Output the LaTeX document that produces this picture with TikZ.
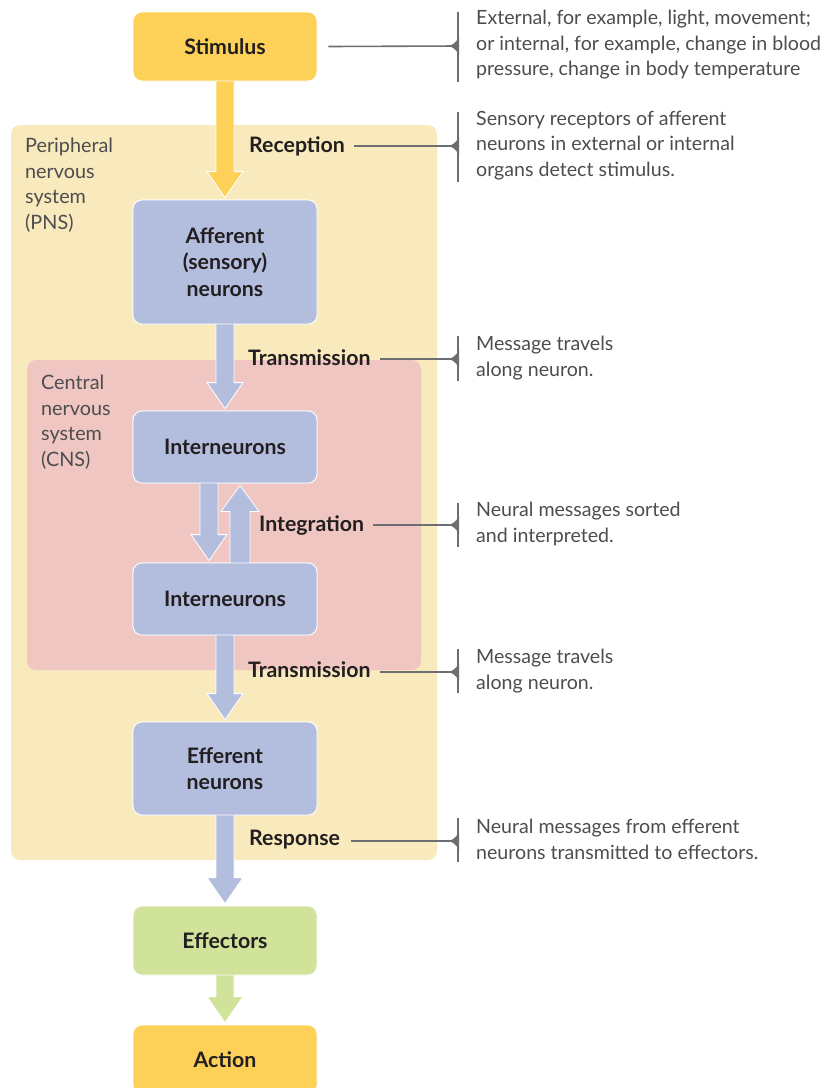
\documentclass[tikz,border=0pt]{standalone}
\usepackage{fontspec}
\setmainfont{Lato}
\usetikzlibrary{calc}
\definecolor{stimy}{HTML}{FDD158}
\definecolor{pnsbg}{HTML}{F9EABD}
\definecolor{cnsbg}{HTML}{F0C6C2}
\definecolor{neur}{HTML}{B3BEDF}
\definecolor{effg}{HTML}{D1E39B}
\definecolor{linegray}{HTML}{6D6E71}
\definecolor{desctext}{HTML}{4D4D4F}
\definecolor{labtext}{HTML}{231F20}
\tikzset{
  x=1pt, y=-1pt,
  box/.style={rounded corners=9pt, draw=white, line width=0.8pt, minimum width=184pt,
    font=\fontsize{21.3}{26.5}\selectfont\bfseries, text=labtext, align=center, inner sep=0pt},
  lbl/.style={font=\fontsize{21.3}{26}\selectfont\bfseries, text=labtext, anchor=west, inner sep=0pt},
  desc/.style={font=\fontsize{19.6}{25.5}\selectfont, text=desctext, anchor=west, align=left, inner sep=0pt},
  region/.style={font=\fontsize{19.8}{25.5}\selectfont, text=desctext, anchor=west, align=left, inner sep=0pt},
  callline/.style={draw=linegray, line width=1.6pt},
  barrow/.style={draw=white, line width=0.8pt, line join=miter},
}
\newcommand\blockarrow[4]{% from coord, to coord, colour, shaft half width
  \filldraw[barrow, fill=#3] ($(#1)+(-#4,-2)$) -- ($(#2)+(-#4,-28)$) -- ($(#2)+(-#4-9,-28)$) -- ($(#2)+(0,-2)$)
    -- ($(#2)+(#4+9,-28)$) -- ($(#2)+(#4,-28)$) -- ($(#1)+(#4,-2)$) -- cycle;}
\newcommand\uparrowblk[4]{% from coord (bottom), to coord (top), colour, half width
  \filldraw[barrow, fill=#3] ($(#1)+(-#4,2)$) -- ($(#2)+(-#4,28)$) -- ($(#2)+(-#4-9,28)$) -- ($(#2)+(0,2)$)
    -- ($(#2)+(#4+9,28)$) -- ($(#2)+(#4,28)$) -- ($(#1)+(#4,2)$) -- cycle;}
\newcommand\bracketmark[4]{% name, y, top, bottom
  \coordinate (#1) at (458,#2);
  \draw[callline] (458,#3) -- (458,#4);
  \fill[linegray] (459,#2-9) .. controls (456,#2-3) and (452,#2-1) .. (449,#2)
    .. controls (452,#2+1) and (456,#2+3) .. (459,#2+9) -- cycle;}
\begin{document}
\begin{tikzpicture}
\useasboundingbox (0,0) rectangle (823,1088);
% background regions
\fill[pnsbg, rounded corners=9pt] (11,125) rectangle (437,860);
\fill[cnsbg, rounded corners=9pt] (27,360) rectangle (421,670);
\node[region] (pnslab) at (25,185) {Peripheral\\nervous\\system\\(PNS)};
\node[region] (cnslab) at (41,422) {Central\\nervous\\system\\(CNS)};

% boxes (positions)
\coordinate (cS) at (225,46.5);
\coordinate (cA) at (225,262);
\coordinate (cI1) at (225,447);
\coordinate (cI2) at (225,599);
\coordinate (cE) at (225,768.5);
\coordinate (cF) at (225,940.5);
\coordinate (cR) at (225,1059.5);

\path (cS) node[box, fill=stimy, minimum height=69pt] (stim) {Stimulus};
\path (cA) node[box, fill=neur, minimum height=124pt] (aff) {Afferent\\(sensory)\\neurons};
\path (cI1) node[box, fill=neur, minimum height=72pt] (int1) {Interneurons};
\path (cI2) node[box, fill=neur, minimum height=72pt] (int2) {Interneurons};
\path (cE) node[box, fill=neur, minimum height=93pt] (eff) {Efferent\\neurons};
\path (cF) node[box, fill=effg, minimum height=69pt] (effr) {Effectors};
\path (cR) node[box, fill=stimy, minimum height=69pt] (act) {Action};

% block arrows
\blockarrow{stim.south}{aff.north}{stimy}{9}
\blockarrow{aff.south}{int1.north}{neur}{9}
\blockarrow{$(int1.south)+(-16,0)$}{$(int2.north)+(-16,0)$}{neur}{9}
\uparrowblk{$(int2.north)+(15,0)$}{$(int1.south)+(15,0)$}{neur}{10}
\blockarrow{int2.south}{eff.north}{neur}{9}
\blockarrow{eff.south}{effr.north}{neur}{9}
\blockarrow{effr.south}{act.north}{effg}{9}

% redraw boxes over arrow starts
\path (cS) node[box, fill=stimy, minimum height=69pt] {Stimulus};
\path (cA) node[box, fill=neur, minimum height=124pt] {Afferent\\(sensory)\\neurons};
\path (cI1) node[box, fill=neur, minimum height=72pt] {Interneurons};
\path (cI2) node[box, fill=neur, minimum height=72pt] {Interneurons};
\path (cE) node[box, fill=neur, minimum height=93pt] {Efferent\\neurons};
\path (cF) node[box, fill=effg, minimum height=69pt] {Effectors};
\path (cR) node[box, fill=stimy, minimum height=69pt] {Action};

% process labels
\node[lbl] (lrec) at (249,146) {Reception};
\node[lbl] (ltr1) at (248,358) {Transmission};
\node[lbl] (lint) at (259,525) {Integration};
\node[lbl] (ltr2) at (248,670) {Transmission};
\node[lbl] (lres) at (249,840) {Response};

% brackets
\bracketmark{bS}{46}{12}{82}
\bracketmark{bR}{146}{112}{182}
\bracketmark{bT1}{359}{336}{381}
\bracketmark{bI}{525}{503}{547}
\bracketmark{bT2}{672}{649}{693}
\bracketmark{bP}{841}{818}{862}

\draw[callline] ($(stim.east)+(11,0)$) -- (bS);
\draw[callline] ($(lrec.east)+(9,0)$) -- (bR);
\draw[callline] ($(ltr1.east)+(9,1)$) -- (bT1);
\draw[callline] ($(lint.east)+(9,0)$) -- (bI);
\draw[callline] ($(ltr2.east)+(9,2)$) -- (bT2);
\draw[callline] ($(lres.east)+(11,1)$) -- (bP);

% descriptions
\node[desc] (d1) at (476,45) {External, for example, light, movement;\\or internal, for example, change in blood\\pressure, change in body temperature};
\node[desc] (d2) at (476,145.5) {Sensory receptors of afferent\\neurons in external or internal\\organs detect stimulus.};
\node[desc] (d3) at (476,358) {Message travels\\along neuron.};
\node[desc] (d4) at (476,524) {Neural messages sorted\\and interpreted.};
\node[desc] (d5) at (476,671) {Message travels\\along neuron.};
\node[desc] (d6) at (476,839.5) {Neural messages from efferent\\neurons transmitted to effectors.};
\end{tikzpicture}
\end{document}
